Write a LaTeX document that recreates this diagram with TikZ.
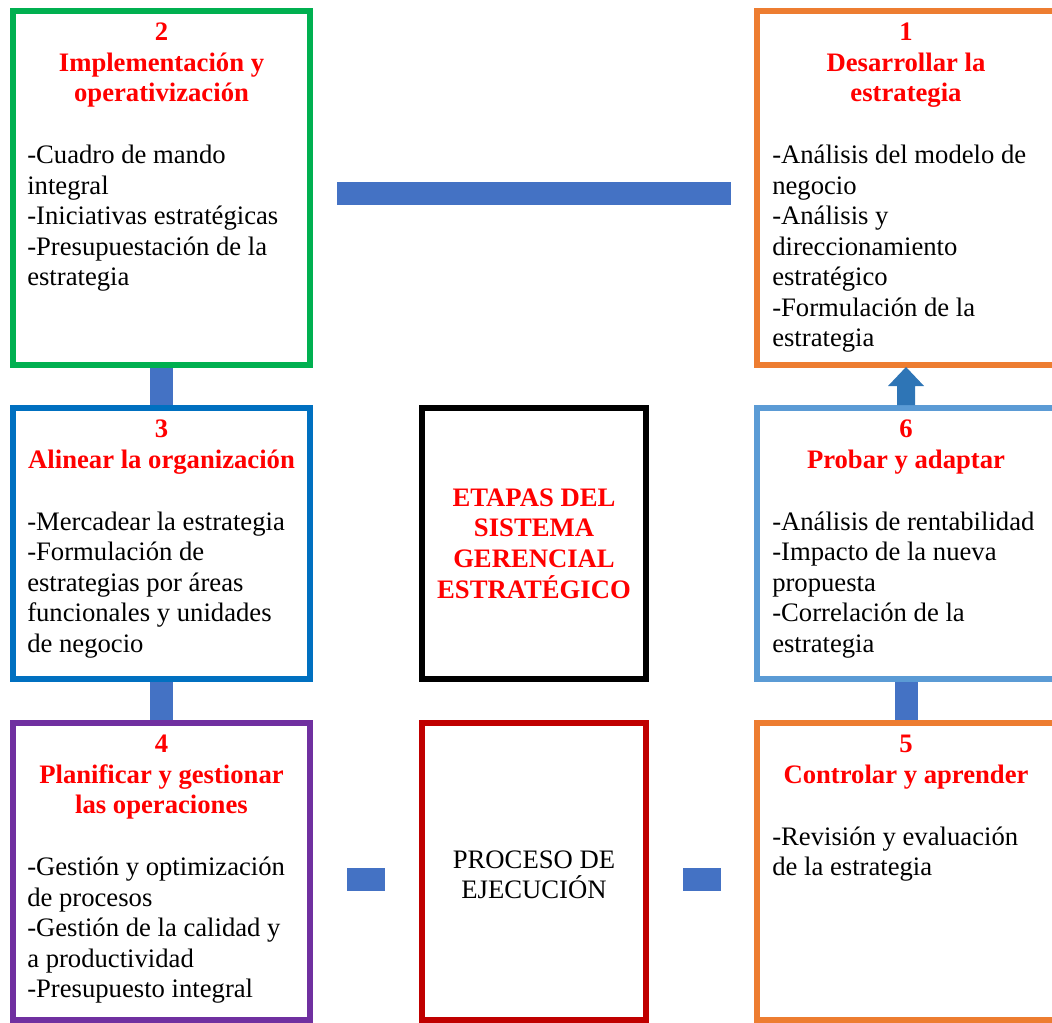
\documentclass[tikz,border=0pt]{standalone}
\usepackage{fontspec}
\setmainfont{Liberation Serif}
\usetikzlibrary{calc}

\definecolor{boxgreen}{HTML}{00B050}
\definecolor{boxorange}{HTML}{ED7D31}
\definecolor{boxblue}{HTML}{0070C0}
\definecolor{boxlightblue}{HTML}{5B9BD5}
\definecolor{boxpurple}{HTML}{7030A0}
\definecolor{boxdarkred}{HTML}{C00000}
\definecolor{linkblue}{HTML}{4472C4}
\definecolor{arrowblue}{HTML}{2E75B6}
\definecolor{titlered}{HTML}{FF0000}

\begin{document}
\begin{tikzpicture}[x=0.75pt,y=-0.75pt,
  box/.style={draw, rectangle, line width=4.5pt, inner sep=0pt, outer sep=0pt},
  leftbox/.style={box, minimum width=222.75pt},
  rightbox/.style={box, minimum width=223.5pt},
  midbox/.style={box, minimum width=168pt, align=center,
                 font=\fontsize{20}{22.9}\selectfont},
  toprow/.style={minimum height=265.5pt},
  midrow/.style={minimum height=203.25pt},
  lowrow/.style={minimum height=222.75pt},
  heading/.style={font=\fontsize{20}{22.9}\selectfont\bfseries, text=titlered,
                  align=center, inner sep=0pt, anchor=north},
  bodytext/.style={font=\fontsize{20}{22.9}\selectfont, align=left,
                   inner sep=0pt, anchor=north west},
  plaintext/.style={font=\fontsize{20}{22.9}\selectfont, align=center, inner sep=0pt},
  link/.style={draw=linkblue, line width=17.25pt},
]
\useasboundingbox (0,0) rectangle (1052,1023);

% boxes
\node[leftbox, toprow, draw=boxgreen] (b2) at (161.5,188) {};
\node[rightbox, toprow, draw=boxorange] (b1) at (906,188) {};
\node[leftbox, midrow, draw=boxblue] (b3) at (161.5,543.5) {};
\node[midbox, midrow, draw=black, text=titlered, font=\fontsize{20}{22.9}\selectfont\bfseries] (etapas) at (534,543.5)
  {ETAPAS DEL\\SISTEMA\\GERENCIAL\\ESTRATÉGICO};
\node[rightbox, midrow, draw=boxlightblue] (b6) at (906,543.5) {};
\node[leftbox, lowrow, draw=boxpurple] (b4) at (161.5,871.5) {};
\node[midbox, lowrow, draw=boxdarkred] (proceso) at (534,871.5) {};
\node[rightbox, lowrow, draw=boxorange] (b5) at (906,871.5) {};

% centre label of the execution box
\node[plaintext] (procesotext) at ($(proceso.center)+(0,3.5)$) {PROCESO DE\\EJECUCIÓN};

% headings
\node[heading] (t1) at ($(b1.north)+(0,8)$) {\strut 1\\Desarrollar la\\estrategia};
\node[heading] (t2) at ($(b2.north)+(0,8)$) {\strut 2\\Implementación y\\operativización};
\node[heading] (t3) at ($(b3.north)+(0,8)$) {\strut 3\\Alinear la organización};
\node[heading] (t4) at ($(b4.north)+(0,8)$) {\strut 4\\Planificar y gestionar\\las operaciones};
\node[heading] (t5) at ($(b5.north)+(0,8)$) {\strut 5\\Controlar y aprender};
\node[heading] (t6) at ($(b6.north)+(0,8)$) {\strut 6\\Probar y adaptar};

% item lists
\node[bodytext] (d1) at ($(b1.north west)+(15,131)$)
  {\strut -Análisis del modelo de\\negocio\\-Análisis y\\direccionamiento\\estratégico\\-Formulación de la\\estrategia};
\node[bodytext] (d2) at ($(b2.north west)+(14,131)$)
  {\strut -Cuadro de mando\\integral\\-Iniciativas estratégicas\\-Presupuestación de la\\estrategia};
\node[bodytext] (d3) at ($(b3.north west)+(14,100.5)$)
  {\strut -Mercadear la estrategia\\-Formulación de\\estrategias por áreas\\funcionales y unidades\\de negocio};
\node[bodytext] (d4) at ($(b4.north west)+(14,131)$)
  {\strut -Gestión y optimización\\de procesos\\-Gestión de la calidad y\\a productividad\\-Presupuesto integral};
\node[bodytext] (d5) at ($(b5.north west)+(15,100.5)$)
  {\strut -Revisión y evaluación\\de la estrategia};
\node[bodytext] (d6) at ($(b6.north west)+(15,100.5)$)
  {\strut -Análisis de rentabilidad\\-Impacto de la nueva\\propuesta\\-Correlación de la\\estrategia};

% connectors
\draw[link, shorten <=2.25pt, shorten >=2.25pt] (b2) -- (b3);
\draw[link, shorten <=2.25pt, shorten >=2.25pt] (b3) -- (b4);
\draw[link, shorten <=2.25pt, shorten >=2.25pt] (b5) -- (b6);
\draw[link, shorten <=20.25pt, shorten >=19.5pt]
  ([yshift=-4.125pt]b2.east) -- ([yshift=-4.125pt]b1.west);
\draw[link, shorten <=27.75pt, shorten >=27.75pt]
  ([yshift=-6pt]b4.east) -- ([yshift=-6pt]proceso.west);
\draw[link, shorten <=27.75pt, shorten >=27pt]
  ([yshift=-6pt]proceso.east) -- ([yshift=-6pt]b5.west);

% block arrow from stage 6 up to stage 1
\fill[arrowblue] ($(b6.north)+(-9,-3)$) -- ($(b1.south)+(-9,21)$)
  -- ($(b1.south)+(-18,21)$) -- ($(b1.south)+(0,2)$)
  -- ($(b1.south)+(18,21)$) -- ($(b1.south)+(9,21)$)
  -- ($(b6.north)+(9,-3)$) -- cycle;
\end{tikzpicture}
\end{document}
